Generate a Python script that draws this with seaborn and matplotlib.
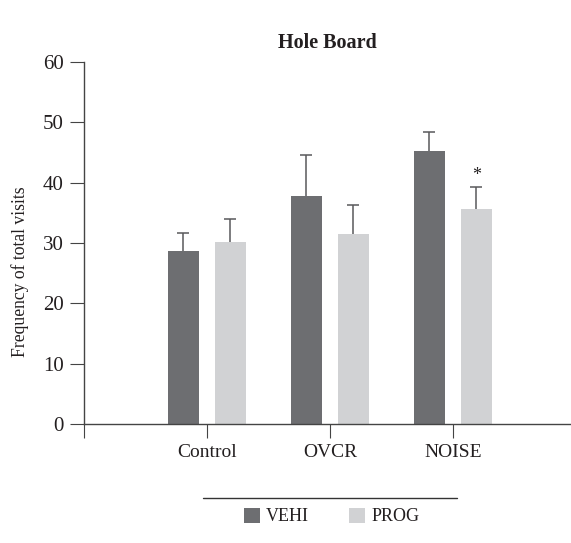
import numpy as np
import pandas as pd
import matplotlib
matplotlib.use('Agg')
import matplotlib.pyplot as plt
import seaborn as sns
from matplotlib.lines import Line2D

# ---- data ----
categories = ['Control', 'OVCR', 'NOISE']
groups = ['VEHI', 'PROG']
vehi_mean = [28.7, 37.8, 45.2]
vehi_err = [2.9, 6.7, 3.1]
prog_mean = [30.2, 31.5, 35.6]
prog_err = [3.7, 4.8, 3.7]
vehi_sig = ['', '', '']
prog_sig = ['', '', '*']
yticks = [0, 10, 20, 30, 40, 50, 60]
title = 'Hole Board'
ylabel = 'Frequency of total visits'

sns.set_theme(style='ticks')
plt.rcParams['font.family'] = ['Liberation Serif', 'DejaVu Serif']
txt = '#231f20'

df = pd.DataFrame({
    'condition': categories * 2,
    'treatment': [groups[0]] * len(categories) + [groups[1]] * len(categories),
    'value': vehi_mean + prog_mean,
})

W, H = 571, 543
fig = plt.figure(figsize=(W / 100, H / 100), dpi=100)
ax = fig.add_axes([84 / W, (H - 424.3) / H, 1 - 84 / W, (424.3 - 61.7) / H])

palette = {'VEHI': '#6d6e71', 'PROG': '#d1d2d4'}
sns.barplot(data=df, x='condition', y='value', hue='treatment', order=categories,
            hue_order=groups, palette=palette, width=0.764, gap=0.34, errorbar=None,
            legend=False, ax=ax, saturation=1, linewidth=0)
bar_containers = list(ax.containers)

for cont, errs, sigs in zip(bar_containers, [vehi_err, prog_err], [vehi_sig, prog_sig]):
    xs = [p.get_x() + p.get_width() / 2 for p in cont.patches]
    ys = [p.get_height() for p in cont.patches]
    eb = ax.errorbar(xs, ys, yerr=[np.zeros(len(errs)), errs], fmt='none', ecolor='#58595b',
                     elinewidth=1.1, capsize=4.3, capthick=1.1, zorder=3)
    # keep only the upper caps
    eb[1][0].set_visible(False)
    for x, y, e, s in zip(xs, ys, errs, sigs):
        if s:
            ax.annotate(s, (x, y + e), xytext=(0, 2), textcoords='offset points',
                        ha='center', va='bottom', fontsize=13, color=txt)

ax.set_xlim(-1, 2.96)
ax.set_ylim(0, 60)
ax.set_yticks(yticks)
ax.set_xticks([-1, 0, 1, 2])
ax.set_xticklabels([''] + categories)
ax.set_xlabel('')
sns.despine(ax=ax)
ax.spines['left'].set_bounds(0, 60)
for s in ['left', 'bottom']:
    ax.spines[s].set_color('#444444')
    ax.spines[s].set_linewidth(1.0)
ax.tick_params(length=10, width=0.8, color='#444444', labelsize=14, labelcolor=txt,
               direction='out', pad=4)
ax.tick_params(axis='y', labelsize=15, pad=4.5)

ax.set_ylabel(ylabel, fontsize=12.7, color=txt)
ax.yaxis.set_label_coords(-0.113, 0.42)
ax.set_title(title, fontsize=14.5, fontweight='bold', color=txt, pad=10)

fig.legend(handles=[c.patches[0] for c in bar_containers], labels=groups,
           loc='center', bbox_to_anchor=(331.5 / W, 1 - 516.5 / H), ncol=2,
           frameon=False, fontsize=13, handlelength=0.9, handleheight=0.9,
           handletextpad=0.35, columnspacing=2.2, labelcolor=txt)
fig.add_artist(Line2D([203 / W, 457 / W], [1 - 498 / H] * 2, color='#333333', lw=1,
                      transform=fig.transFigure))

fig.savefig('out.png', dpi=100)
